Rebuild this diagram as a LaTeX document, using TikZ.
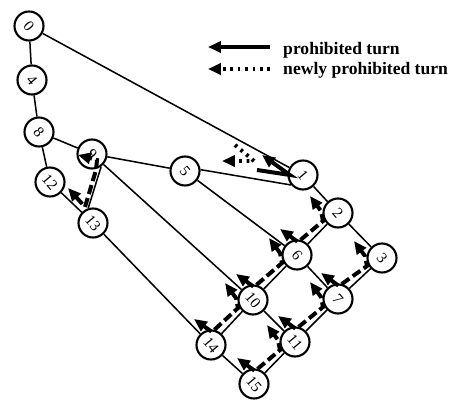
\documentclass[tikz,border=0pt]{standalone}
\usepackage{fontspec}
\setmainfont{Liberation Serif}
\usepackage{graphicx}
\usetikzlibrary{arrows.meta,calc}

% rotated router number
\newcommand{\rt}[1]{\rotatebox{-50}{#1}}
% north-to-west and south-to-west turns along one column link
\newcommand{\westpair}[2]{%
  \draw[pairturn] ($(#1)+(-17,-26)$) -- ($(#1)+(1,-13)$) -- ($(#2)+(-15,8)$)
    -- ($(#2)+(-17,-2)$) -- ($(#2)+(-28,-17)$);}

\begin{document}
\begin{tikzpicture}[x=0.03cm,y=-0.03cm,
  >={Triangle[length=11pt,width=9.5pt]},
  router/.style={circle,draw,fill=white,line width=1.8pt,minimum size=0.87cm,
    inner sep=0pt,font=\fontsize{13}{13}\selectfont},
  link/.style={line width=1.3pt},
  turn/.style={line width=3.4pt,->},
  pairturn/.style={line width=3.4pt,<->,dash pattern=on 8pt off 3.5pt},
  newturn/.style={line width=3.4pt,->,dash pattern=on 2.3pt off 4pt},
  legend/.style={anchor=base west,inner sep=0pt,font=\bfseries\fontsize{15}{15}\selectfont}]
\useasboundingbox (0,0) rectangle (457,400);

% routers
\node[router] (n0) at (29,26) {\rt{0}};
\node[router] (n4) at (32,80) {\rt{4}};
\node[router] (n8) at (39,132) {\rt{8}};
\node[router] (n12) at (50,182) {\rt{12}};
\node[router] (n9) at (92,154) {\rt{9}};
\node[router] (n13) at (93,223) {\rt{13}};
\node[router] (n5) at (185,171) {\rt{5}};
\node[router] (n1) at (303,175) {\rt{1}};
\node[router] (n2) at (338,213) {\rt{2}};
\node[router] (n3) at (382,258) {\rt{3}};
\node[router] (n6) at (297,255) {\rt{6}};
\node[router] (n7) at (338,299) {\rt{7}};
\node[router] (n10) at (253,300) {\rt{10}};
\node[router] (n11) at (295,342) {\rt{11}};
\node[router] (n14) at (211,345) {\rt{14}};
\node[router] (n15) at (254,384) {\rt{15}};

% links
\draw[link] (n0) -- (n1);
\draw[link] (n0) -- (n4);
\draw[link] (n4) -- (n8);
\draw[link] (n8) -- (n12);
\draw[link] (n8) -- (n9);
\draw[link] (n9) -- (n5);
\draw[link] (n5.5) -- (n1.220);
\draw[link] (n12) -- (n13);
\draw[link] (n9.-54) -- (n13.108);
\draw[link] (n9) -- (n10);
\draw[link] (n13) -- (n14);
\draw[link] (n5) -- (n6);
\draw[link] (n1) -- (n2);
\draw[link] (n2) -- (n3);
\draw[link] (n2) -- (n6);
\draw[link] (n3) -- (n7);
\draw[link] (n6) -- (n7);
\draw[link] (n6) -- (n10);
\draw[link] (n7) -- (n11);
\draw[link] (n10) -- (n11);
\draw[link] (n10) -- (n14);
\draw[link] (n11) -- (n15);
\draw[link] (n14) -- (n15);

% prohibited turns
\westpair{n14}{n10}
\westpair{n10}{n6}
\westpair{n6}{n2}
\westpair{n15}{n11}
\westpair{n11}{n7}
\westpair{n7}{n3}
\draw[pairturn] ($(n13)+(-25,-35)$) -- ($(n13)+(-8,-16)$) -- ($(n9)+(4,16)$)
  -- ($(n9)+(5,6)$) -- ($(n9)+(-14,1)$);
\draw[turn] ($(n1)+(-46,-5)$) -- ($(n1)+(-13,0)$) -- ($(n1)+(-41,-20)$);
\draw[newturn] ($(n1)+(-68,-30)$) -- ($(n1)+(-49,-14)$) -- ($(n1)+(-81,-14)$);

% legend
\node[legend] (lp) at (283,55) {prohibited turn};
\node[legend] (ln) at (283,75) {newly prohibited turn};
\draw[turn] ($(lp.base west)+(-13,-8)$) -- ($(lp.base west)+(-75,-8)$);
\draw[newturn] ($(ln.base west)+(-13,-6)$) -- ($(ln.base west)+(-75,-6)$);
\end{tikzpicture}
\end{document}
